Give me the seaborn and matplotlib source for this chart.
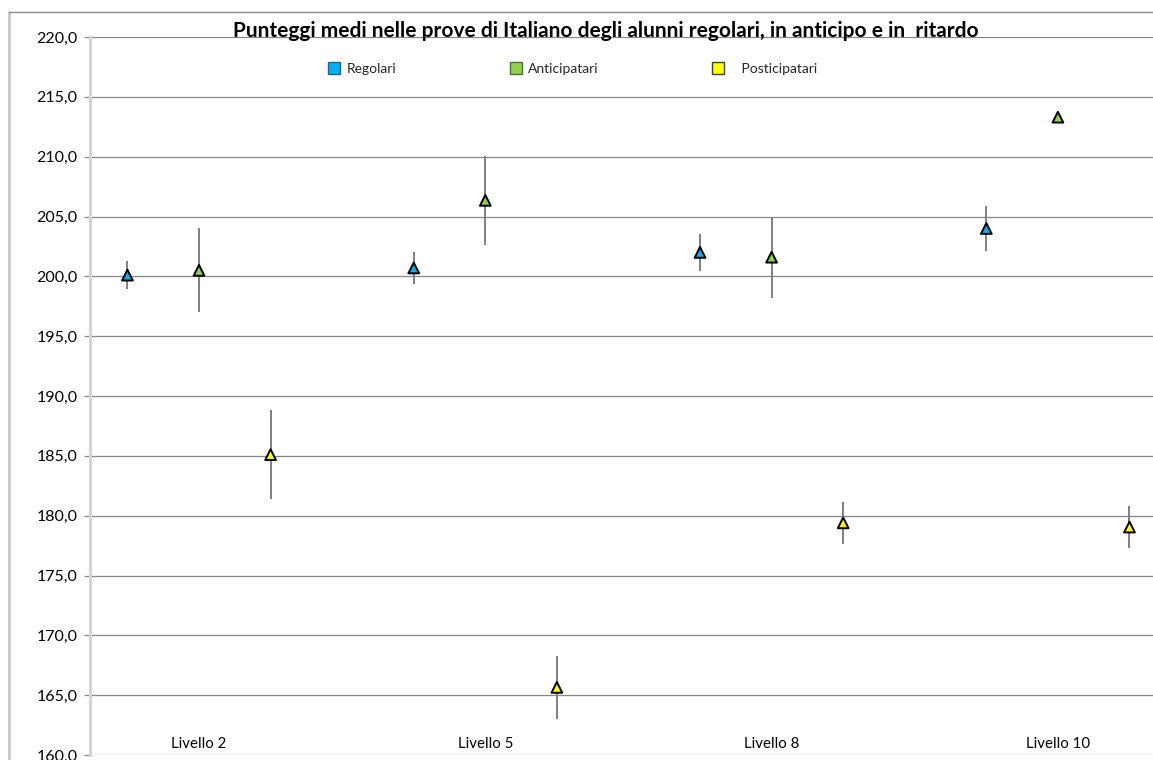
import numpy as np
import pandas as pd
import matplotlib.pyplot as plt
import seaborn as sns
from matplotlib.lines import Line2D
from matplotlib.ticker import FuncFormatter

# values
livelli = ["Livello 2", "Livello 5", "Livello 8", "Livello 10"]
gruppi = ["Regolari", "Anticipatari", "Posticipatari"]

regolari = [200.1, 200.7, 202.0, 204.0]
regolari_err = [1.2, 1.3, 1.55, 1.9]
anticipatari = [200.5, 206.35, 201.6, 213.3]
anticipatari_err = [3.5, 3.7, 3.4, 0.2]
posticipatari = [185.1, 165.65, 179.4, 179.05]
posticipatari_err = [3.7, 2.6, 1.75, 1.75]

y_ticks = np.arange(160, 221, 5)

TITLE = "Punteggi medi nelle prove di Italiano degli alunni regolari, in anticipo e in  ritardo"
COLORS = {"Regolari": "#00B0F0", "Anticipatari": "#92D050", "Posticipatari": "#FFFF00"}
EDGES = {"Regolari": "#2F5F8F", "Anticipatari": "#4F6F2F", "Posticipatari": "#404040"}
W, H = 1153, 760


def build_frame():
    rows = []
    series = {
        "Regolari": (regolari, regolari_err),
        "Anticipatari": (anticipatari, anticipatari_err),
        "Posticipatari": (posticipatari, posticipatari_err),
    }
    for g_idx, g in enumerate(gruppi):
        vals, errs = series[g]
        for l_idx, liv in enumerate(livelli):
            rows.append({
                "livello": liv,
                "gruppo": g,
                # dodge the three groups around each category
                "pos": l_idx + (g_idx - 1) * 0.25,
                "media": vals[l_idx],
                "err": errs[l_idx],
            })
    return pd.DataFrame(rows)


def main():
    sns.set_style("white")
    plt.rcParams["font.family"] = ["Lato", "DejaVu Sans"]

    df = build_frame()

    fig = plt.figure(figsize=(W / 100, H / 100), dpi=100)
    ax = fig.add_axes([90 / W, 1 - 755 / H, 1 - 90 / W, (755 - 37) / H])

    ax.errorbar(df["pos"], df["media"], yerr=df["err"], fmt="none",
                ecolor="#7F7F7F", elinewidth=1.4, capsize=0, zorder=2)
    sns.scatterplot(data=df, x="pos", y="media", hue="gruppo", palette=COLORS,
                    marker="^", s=60, edgecolor="black", linewidth=1.4,
                    legend=False, zorder=3, ax=ax)

    ax.set_ylim(160, 220)
    ax.set_xlim((90 - 199) / 286.3, (W - 199) / 286.3)
    ax.set_yticks(y_ticks)
    ax.yaxis.set_major_formatter(FuncFormatter(lambda v, _: f"{v:.1f}".replace(".", ",")))
    ax.set_xticks([])
    ax.set_xlabel("")
    ax.set_ylabel("")
    ax.grid(axis="y", color="#868686", linewidth=0.9)
    ax.set_axisbelow(True)

    for side in ["top", "right", "bottom"]:
        ax.spines[side].set_visible(False)
    ax.spines["left"].set_color("#D4D4D4")
    ax.spines["left"].set_linewidth(2.2)
    ax.tick_params(axis="y", direction="out", length=4, width=0.9, color="#868686",
                   labelsize=11.5, labelcolor="black", pad=5, left=True)

    for i, liv in enumerate(livelli):
        ax.text(i, 160.95, liv, ha="center", va="center", fontsize=10.8, color="black")

    handles = [Line2D([], [], marker="s", linestyle="", markersize=8,
                      markerfacecolor=COLORS[g], markeredgecolor=EDGES[g],
                      markeredgewidth=1.0) for g in gruppi]
    labels = ["Regolari", "Anticipatari", "   Posticipatari"]
    fig.legend(handles, labels, ncol=3, loc="center", frameon=False,
               bbox_to_anchor=(572 / W, 1 - 69 / H), fontsize=10,
               handlelength=1.0, handletextpad=0.4, columnspacing=8.1)

    fig.text(606 / W, 1 - 31 / H, TITLE, ha="center", va="center",
             fontsize=15, fontweight="bold", color="black")

    # outer chart frame (cut off on the right and bottom in the reference)
    fig.add_artist(Line2D([9 / W, 9 / W], [0, 1 - 12 / H], transform=fig.transFigure,
                          color="#C8C8C8", linewidth=2))
    fig.add_artist(Line2D([9 / W, 1], [1 - 12 / H, 1 - 12 / H], transform=fig.transFigure,
                          color="#8C8C8C", linewidth=1))

    fig.savefig("out.png", dpi=100)
    plt.close(fig)


if __name__ == "__main__":
    main()
